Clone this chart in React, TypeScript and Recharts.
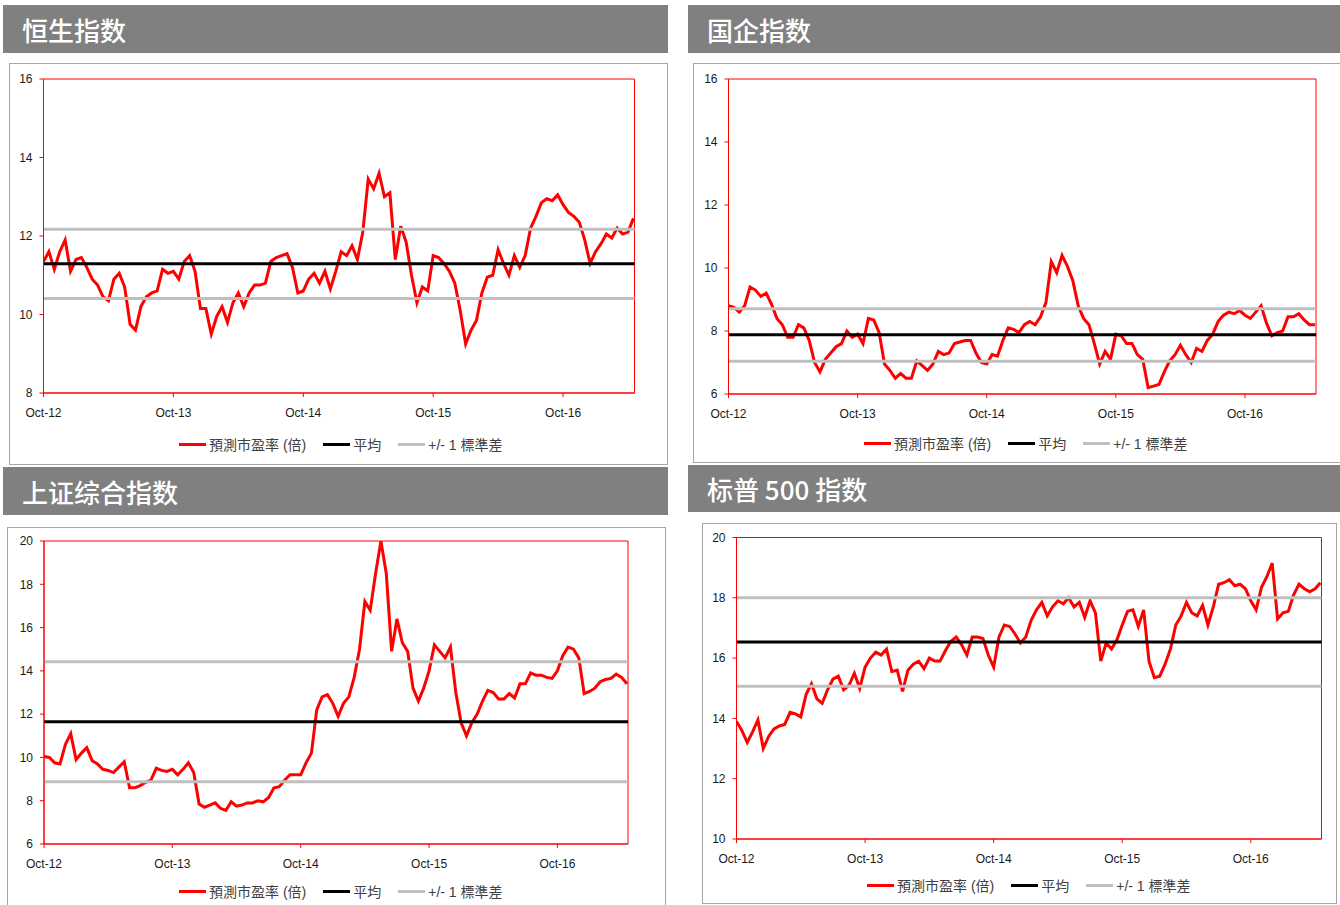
import React from "react";
import { Legend, Line, LineChart, ReferenceArea, ReferenceLine, XAxis, YAxis } from "recharts";

// half-monthly readings, starting Oct-12
const MONTH_STEP = 0.5;
const X_END = 54.6;
const X_TICKS = [0, 12, 24, 36, 48];
const X_LABELS = ["Oct-12", "Oct-13", "Oct-14", "Oct-15", "Oct-16"];

const LEGEND_LABELS = ["預測市盈率 (倍)", "平均", "+/- 1 標準差"];

const HSI_PE = [
  11.35, 11.6, 11.15, 11.6, 11.9, 11.1, 11.4, 11.45, 11.2, 10.9, 10.75, 10.45,
  10.35, 10.9, 11.05, 10.7, 9.75, 9.6, 10.2, 10.45, 10.55, 10.6, 11.15, 11.05,
  11.1, 10.9, 11.35, 11.5, 11.1, 10.15, 10.15, 9.5, 9.95, 10.2, 9.8, 10.3,
  10.55, 10.2, 10.55, 10.75, 10.75, 10.8, 11.35, 11.45, 11.5, 11.55, 11.2, 10.55,
  10.6, 10.9, 11.05, 10.8, 11.1, 10.65, 11.1, 11.6, 11.5, 11.75, 11.4, 12.1,
  13.45, 13.2, 13.6, 13.0, 13.1, 11.4, 12.25, 11.85, 11.0, 10.3, 10.7, 10.6,
  11.5, 11.45, 11.3, 11.1, 10.8, 10.1, 9.25, 9.6, 9.85, 10.55, 10.95, 11.0,
  11.65, 11.3, 11.0, 11.5, 11.2, 11.5, 12.2, 12.5, 12.85, 12.95, 12.9, 13.05,
  12.8, 12.6, 12.5, 12.35, 11.9, 11.3, 11.6, 11.8, 12.05, 11.95, 12.2, 12.05,
  12.1, 12.45,
];
const HSI_STATS = [10.41, 11.29, 12.17]; // -1sd, mean, +1sd
const HSI_TICKS = [8, 10, 12, 14, 16];

const HSCEI_PE = [
  8.8, 8.75, 8.6, 8.8, 9.4, 9.3, 9.1, 9.2, 8.85, 8.4, 8.2, 7.8,
  7.8, 8.2, 8.1, 7.7, 7.0, 6.7, 7.1, 7.3, 7.5, 7.6, 8.0, 7.8,
  7.9, 7.6, 8.4, 8.35, 7.95, 6.95, 6.75, 6.5, 6.65, 6.5, 6.5, 7.05,
  6.9, 6.75, 6.95, 7.35, 7.25, 7.3, 7.6, 7.65, 7.7, 7.7, 7.3, 7.0,
  6.95, 7.25, 7.2, 7.7, 8.1, 8.05, 7.95, 8.2, 8.3, 8.2, 8.45, 8.9,
  10.2, 9.85, 10.4, 10.05, 9.6, 8.8, 8.4, 8.2, 7.6, 6.95, 7.35, 7.1,
  7.9, 7.85, 7.6, 7.6, 7.25, 7.1, 6.2, 6.25, 6.3, 6.7, 7.05, 7.25,
  7.55, 7.25, 7.0, 7.45, 7.35, 7.7, 7.9, 8.3, 8.5, 8.6, 8.55, 8.65,
  8.5, 8.4, 8.6, 8.8, 8.25, 7.85, 7.95, 8.0, 8.45, 8.45, 8.55, 8.35,
  8.2, 8.2,
];
const HSCEI_STATS = [7.04, 7.88, 8.71];
const HSCEI_TICKS = [6, 8, 10, 12, 14, 16];

const SSE_PE = [
  10.05, 10.0, 9.75, 9.7, 10.6, 11.1, 9.9, 10.2, 10.45, 9.85, 9.7, 9.45,
  9.4, 9.3, 9.55, 9.8, 8.6, 8.6, 8.7, 8.85, 8.95, 9.5, 9.4, 9.35,
  9.45, 9.2, 9.45, 9.75, 9.3, 7.85, 7.7, 7.8, 7.9, 7.65, 7.55, 7.95,
  7.75, 7.8, 7.9, 7.9, 8.0, 7.95, 8.15, 8.6, 8.65, 8.95, 9.2, 9.2,
  9.2, 9.75, 10.2, 12.2, 12.8, 12.9, 12.5, 11.9, 12.5, 12.8, 13.7, 15.0,
  17.2, 16.8, 18.5, 20.0, 18.5, 14.9, 16.4, 15.3, 14.9, 13.2, 12.6, 13.2,
  14.0, 15.2, 14.9, 14.6, 15.1, 13.0, 11.6, 11.0, 11.6, 12.0, 12.6, 13.1,
  13.0, 12.7, 12.7, 12.95, 12.75, 13.4, 13.4, 13.9, 13.8, 13.8, 13.7, 13.65,
  14.0, 14.7, 15.1, 15.0, 14.6, 12.95, 13.05, 13.2, 13.5, 13.6, 13.65, 13.85,
  13.7, 13.4,
];
const SSE_STATS = [8.88, 11.65, 14.42];
const SSE_TICKS = [6, 8, 10, 12, 14, 16, 18, 20];

const SPX_PE = [
  13.9, 13.6, 13.2, 13.55, 13.95, 13.0, 13.4, 13.65, 13.75, 13.8, 14.2, 14.15,
  14.05, 14.8, 15.15, 14.65, 14.5, 14.95, 15.3, 15.4, 14.95, 15.1, 15.5, 15.0,
  15.7, 16.0, 16.2, 16.1, 16.3, 15.55, 15.6, 14.9, 15.6, 15.8, 15.9, 15.65,
  16.0, 15.9, 15.9, 16.25, 16.55, 16.7, 16.45, 16.1, 16.7, 16.7, 16.65, 16.1,
  15.7, 16.7, 17.1, 17.05, 16.8, 16.5, 16.7, 17.25, 17.6, 17.85, 17.4, 17.7,
  17.9, 17.8, 18.0, 17.7, 17.85, 17.35, 17.9, 17.5, 15.9, 16.5, 16.3, 16.6,
  17.1, 17.55, 17.6, 17.05, 17.6, 15.9, 15.35, 15.4, 15.8, 16.3, 17.1, 17.4,
  17.85, 17.5, 17.4, 17.75, 17.1, 17.7, 18.45, 18.5, 18.6, 18.4, 18.45, 18.3,
  17.9, 17.6, 18.35, 18.7, 19.15, 17.3, 17.5, 17.55, 18.1, 18.45, 18.3, 18.2,
  18.3, 18.5,
];
const SPX_STATS = [15.07, 16.53, 18.0];
const SPX_TICKS = [10, 12, 14, 16, 18, 20];

const RED = "#ff0000";
const GREY = "#bfbfbf";
const AXIS_FONT = "'Liberation Sans', Arial, sans-serif";
const Y_AXIS_W = 30;
const X_AXIS_H = 30;

type Rect = { x: number; y: number; w: number; h: number };

type PanelProps = {
  title: string;
  values: number[];
  stats: number[];
  yTicks: number[];
  header: Rect;
  box: Rect;
  plot: Rect;
  legendAt: [number, number];
};

function LegendRow() {
  const colors = [RED, "#000000", GREY];
  return (
    <div style={{ display: "flex", alignItems: "center", height: 18, whiteSpace: "nowrap" }}>
      {LEGEND_LABELS.map((label, i) => (
        <div key={label} style={{ display: "flex", alignItems: "center", marginRight: 17 }}>
          <span style={{ display: "inline-block", width: 27, height: 3, background: colors[i] }} />
          <span
            style={{
              marginLeft: 3,
              fontSize: 14,
              color: "#404040",
              fontFamily: "'Liberation Sans', 'Noto Sans CJK TC', sans-serif",
            }}
          >
            {label}
          </span>
        </div>
      ))}
    </div>
  );
}

function Panel({ title, values, stats, yTicks, header, box, plot, legendAt }: PanelProps) {
  const data = values.map((v, i) => ({ m: i * MONTH_STEP, pe: v }));
  const yMin = yTicks[0];
  const yMax = yTicks[yTicks.length - 1];
  const margin = {
    top: plot.y - box.y,
    left: plot.x - box.x - Y_AXIS_W,
    right: box.x + box.w - (plot.x + plot.w),
    bottom: box.y + box.h - (plot.y + plot.h) - X_AXIS_H,
  };

  return (
    <>
      <div
        style={{
          position: "absolute",
          left: header.x,
          top: header.y,
          width: header.w,
          height: header.h,
          background: "#808080",
          display: "flex",
          alignItems: "center",
          paddingLeft: 19,
          boxSizing: "border-box",
          color: "#ffffff",
          fontSize: 26,
          fontWeight: 500,
          fontFamily: "'Noto Sans CJK SC', sans-serif",
        }}
      >
        {title}
      </div>
      <div
        style={{
          position: "absolute",
          left: box.x,
          top: box.y,
          width: box.w,
          height: box.h,
          border: "1px solid #a6a6a6",
          boxSizing: "border-box",
          background: "#ffffff",
        }}
      />
      <div style={{ position: "absolute", left: box.x, top: box.y }}>
        <LineChart width={box.w} height={box.h} data={data} margin={margin}>
          <XAxis
            type="number"
            dataKey="m"
            domain={[0, X_END]}
            ticks={X_TICKS}
            tickFormatter={(v: number) => X_LABELS[X_TICKS.indexOf(v)]}
            axisLine={{ stroke: RED }}
            tickLine={{ stroke: RED }}
            tickSize={4}
            tickMargin={11}
            height={X_AXIS_H}
            tick={{ fontSize: 12, fill: "#1a1a1a", fontFamily: AXIS_FONT }}
            allowDataOverflow
          />
          <YAxis
            type="number"
            domain={[yMin, yMax]}
            ticks={yTicks}
            width={Y_AXIS_W}
            axisLine={{ stroke: RED }}
            tickLine={{ stroke: RED }}
            tickSize={4}
            tickMargin={7}
            tick={{ fontSize: 12, fill: "#1a1a1a", fontFamily: AXIS_FONT }}
            allowDataOverflow
          />
          <ReferenceArea x1={0} x2={X_END} y1={yMin} y2={yMax} fill="none" stroke={RED} strokeWidth={1} />
          <Line
            type="linear"
            dataKey="pe"
            stroke={RED}
            strokeWidth={3}
            dot={false}
            activeDot={false}
            isAnimationActive={false}
          />
          <ReferenceLine y={stats[1]} stroke="#000000" strokeWidth={3} />
          <ReferenceLine y={stats[0]} stroke={GREY} strokeWidth={3} />
          <ReferenceLine y={stats[2]} stroke={GREY} strokeWidth={3} />
          <Legend
            layout="horizontal"
            verticalAlign="middle"
            align="center"
            wrapperStyle={{
              left: legendAt[0] - box.x,
              top: legendAt[1] - box.y - 9,
              width: 420,
              height: 18,
            }}
            content={() => <LegendRow />}
          />
        </LineChart>
      </div>
    </>
  );
}

export default function App() {
  return (
    <div
      style={{
        position: "absolute",
        left: 0,
        top: 0,
        width: 1340,
        height: 905,
        overflow: "hidden",
        background: "#ffffff",
      }}
    >
      <Panel
        title="恒生指数"
        values={HSI_PE}
        stats={HSI_STATS}
        yTicks={HSI_TICKS}
        header={{ x: 3, y: 5, w: 665, h: 48 }}
        box={{ x: 9, y: 63, w: 659, h: 402 }}
        plot={{ x: 43.5, y: 79, w: 591, h: 314 }}
        legendAt={[179, 444]}
      />
      <Panel
        title="国企指数"
        values={HSCEI_PE}
        stats={HSCEI_STATS}
        yTicks={HSCEI_TICKS}
        header={{ x: 688, y: 5, w: 652, h: 48 }}
        box={{ x: 693, y: 63, w: 648, h: 400 }}
        plot={{ x: 728.5, y: 79, w: 587.5, h: 315 }}
        legendAt={[864, 443]}
      />
      <Panel
        title="上证综合指数"
        values={SSE_PE}
        stats={SSE_STATS}
        yTicks={SSE_TICKS}
        header={{ x: 3, y: 467, w: 665, h: 48 }}
        box={{ x: 7, y: 527, w: 659, h: 380 }}
        plot={{ x: 44, y: 541, w: 584, h: 303 }}
        legendAt={[179, 891]}
      />
      <Panel
        title="标普 500 指数"
        values={SPX_PE}
        stats={SPX_STATS}
        yTicks={SPX_TICKS}
        header={{ x: 688, y: 465, w: 652, h: 47 }}
        box={{ x: 702, y: 523, w: 635, h: 381 }}
        plot={{ x: 736.5, y: 537.5, w: 585, h: 301.5 }}
        legendAt={[867, 885]}
      />
    </div>
  );
}
